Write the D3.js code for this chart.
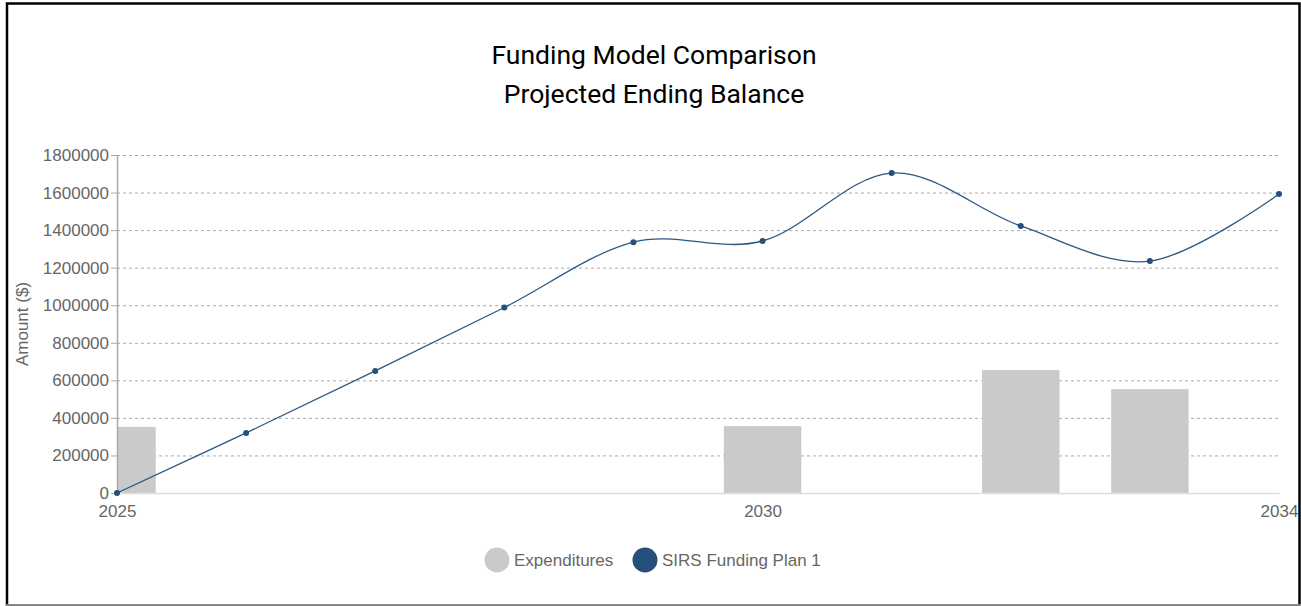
<!DOCTYPE html>
<html>
<head>
<meta charset="utf-8">
<script src="https://cdn.jsdelivr.net/npm/d3@7"></script>
<style>
  html, body { margin: 0; padding: 0; background: #fff; }
  svg { display: block; }
  .tick text { font-family: "Liberation Sans", Arial, sans-serif; }
</style>
</head>
<body>
<svg width="1301" height="606"></svg>
<script>
// years on the x axis
var years = [2025, 2026, 2027, 2028, 2029, 2030, 2031, 2032, 2033, 2034];
// projected ending balance, SIRS Funding Plan 1
var balance = [0, 320000, 650000, 988000, 1336000, 1342000, 1704000, 1422000, 1235000, 1592000];
// expenditures per year
var expenditures = [352000, 0, 0, 0, 0, 356000, 0, 655000, 553000, 0];
var yTicks = [0, 200000, 400000, 600000, 800000, 1000000, 1200000, 1400000, 1600000, 1800000];
var xTicks = [2025, 2030, 2034];
var titleLines = ["Funding Model Comparison", "Projected Ending Balance"];
var legendNames = ["Expenditures", "SIRS Funding Plan 1"];

var svg = d3.select("svg");
var margin = {top: 155, left: 117, right: 22, bottom: 113};
var width = 1301 - margin.left - margin.right,
    height = 606 - margin.top - margin.bottom;

// frame
svg.append("rect")
  .attr("x", 7).attr("y", 3.5).attr("width", 1292.5).attr("height", 602)
  .attr("fill", "none").attr("stroke", "#000").attr("stroke-width", 2.5);
svg.append("line")
  .attr("x1", 6).attr("x2", 1301).attr("y1", 605).attr("y2", 605)
  .attr("stroke", "#aaa").attr("stroke-width", 1.5);

// title
svg.append("g").selectAll("text")
  .data(titleLines).enter().append("text")
  .attr("x", 654).attr("y", function (d, i) { return 64 + i * 39; })
  .attr("text-anchor", "middle")
  .attr("font-family", "Roboto, sans-serif")
  .attr("font-size", 26.5)
  .attr("fill", "#000")
  .text(function (d) { return d; });

var g = svg.append("g").attr("transform", "translate(" + margin.left + "," + margin.top + ")");

var x = d3.scaleLinear().domain([2025, 2034]).range([0, width]);
var y = d3.scaleLinear().domain([0, 1800000]).range([height, 0]);
var step = x(2026) - x(2025);

svg.append("clipPath").attr("id", "clip")
  .append("rect").attr("width", width).attr("height", height + 1);

// grid lines
g.append("g").selectAll("line")
  .data(yTicks).enter().append("line")
  .attr("x1", 0).attr("x2", width)
  .attr("y1", function (d) { return y(d) + 0.5; })
  .attr("y2", function (d) { return y(d) + 0.5; })
  .attr("stroke", "#aaa")
  .attr("stroke-dasharray", "3,3");

// bars
g.append("g").attr("clip-path", "url(#clip)")
  .selectAll("rect")
  .data(years.map(function (yr, i) { return {year: yr, v: expenditures[i]}; }).filter(function (d) { return d.v > 0; }))
  .enter().append("rect")
  .attr("x", function (d) { return x(d.year) - step * 0.3; })
  .attr("width", step * 0.6)
  .attr("y", function (d) { return y(d.v); })
  .attr("height", function (d) { return height - y(d.v); })
  .attr("fill", "#cacaca");

// x axis
var xAxis = g.append("g")
  .attr("transform", "translate(0," + height + ")")
  .call(d3.axisBottom(x).tickValues(xTicks).tickFormat(d3.format("d")).tickSize(0).tickPadding(12));
xAxis.select(".domain").attr("stroke", "#ddd").attr("stroke-width", 1.5);
xAxis.selectAll("text").attr("fill", "#666").attr("font-size", 17);

// y axis
var yAxis = g.append("g")
  .call(d3.axisLeft(y).tickValues(yTicks).tickFormat(d3.format("d")).tickSize(6).tickPadding(2).tickSizeOuter(0));
yAxis.select(".domain").attr("stroke", "#aaa").attr("stroke-width", 1.5);
yAxis.selectAll(".tick line").attr("stroke", "#aaa");
yAxis.selectAll("text").attr("fill", "#666").attr("font-size", 17);

svg.append("text")
  .attr("transform", "translate(28," + (margin.top + height / 2) + ") rotate(-90)")
  .attr("text-anchor", "middle")
  .attr("font-family", "Liberation Sans, Arial, sans-serif")
  .attr("font-size", 17)
  .attr("fill", "#666")
  .text("Amount ($)");

// line
var line = d3.line()
  .x(function (d, i) { return x(years[i]); })
  .y(function (d) { return y(d); })
  .curve(d3.curveCardinal);

g.append("path")
  .datum(balance)
  .attr("d", line)
  .attr("fill", "none")
  .attr("stroke", "#2b5783")
  .attr("stroke-width", 1.3);

g.append("g").selectAll("circle")
  .data(balance).enter().append("circle")
  .attr("cx", function (d, i) { return x(years[i]); })
  .attr("cy", function (d) { return y(d); })
  .attr("r", 3)
  .attr("fill", "#26507b");

// legend
var legendColors = ["#cacaca", "#26507b"];
var legendX = [497, 645];
var legend = svg.append("g").selectAll("g")
  .data(legendNames).enter().append("g")
  .attr("transform", function (d, i) { return "translate(" + legendX[i] + ",560)"; });
legend.append("circle").attr("r", 12.5).attr("fill", function (d, i) { return legendColors[i]; });
legend.append("text")
  .attr("x", 17).attr("y", 6)
  .attr("font-family", "Liberation Sans, Arial, sans-serif")
  .attr("font-size", 17)
  .attr("fill", "#666")
  .text(function (d) { return d; });
</script>
</body>
</html>
